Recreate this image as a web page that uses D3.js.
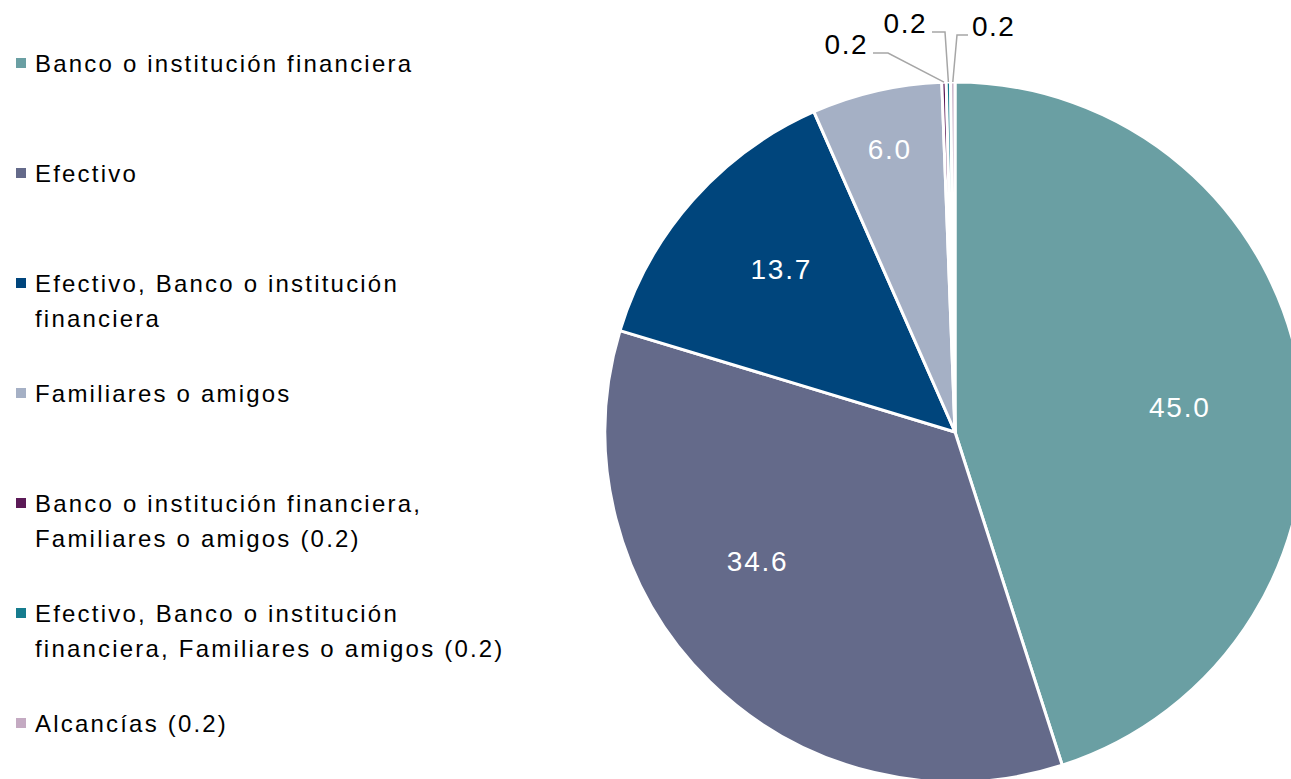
<!DOCTYPE html>
<html>
<head>
<meta charset="utf-8">
<script src="https://cdn.jsdelivr.net/npm/d3@7"></script>
<style>
  body { margin: 0; background: #fff; }
  text { font-family: "Liberation Sans", Arial, sans-serif; }
</style>
</head>
<body>
<svg id="chart" width="1291" height="779"></svg>
<script>
// Categories, values and colours
var categories = [
  "Banco o institución financiera",
  "Efectivo",
  "Efectivo, Banco o institución financiera",
  "Familiares o amigos",
  "Banco o institución financiera, Familiares o amigos",
  "Efectivo, Banco o institución financiera, Familiares o amigos",
  "Alcancías"
]
var values = [45.0, 34.6, 13.7, 6.0, 0.2, 0.2, 0.2]
var colours = ["#6a9fa3", "#646a8a", "#00457c", "#a5b0c5", "#5b1a57", "#167c8e", "#c4aac2"]

// Legend text, already broken into lines as in the picture
var legend_lines = [
  ["Banco o institución financiera"],
  ["Efectivo"],
  ["Efectivo, Banco o institución", "financiera"],
  ["Familiares o amigos"],
  ["Banco o institución financiera,", "Familiares o amigos (0.2)"],
  ["Efectivo, Banco o institución", "financiera, Familiares o amigos (0.2)"],
  ["Alcancías (0.2)"]
]

var svg = d3.select("#chart")

var cx = 955, cy = 432, radius = 350

var pie = d3.pie().sort(null).value(function(d) { return d })
var arcs = pie(values)

var arc = d3.arc().innerRadius(0).outerRadius(radius)

var pie_g = svg.append("g").attr("transform", "translate(" + cx + "," + cy + ")")

pie_g.selectAll(".slice")
  .data(arcs)
  .enter().append("path")
    .attr("class", "slice")
    .attr("d", arc)
    .attr("fill", function(d, i) { return colours[i] })
    .attr("stroke", "#fff")
    .attr("stroke-width", 3)
    .attr("stroke-linejoin", "round")

// Big slices get a white label inside (radius fraction, angle nudge in degrees,
// roughly where Excel's best fit put them)
var inner_place = [[0.646, 2.6], [0.674, 12.3], [0.68, 1.6], [0.83, 0]]

pie_g.selectAll(".inner_label")
  .data(arcs.filter(function(d) { return d.value >= 1 }))
  .enter().append("text")
    .attr("class", "inner_label")
    .attr("transform", function(d, i) {
      var p = inner_place[i]
      var a = (d.startAngle + d.endAngle) / 2 + p[1] * Math.PI / 180
      var r = radius * p[0]
      return "translate(" + (Math.sin(a) * r) + "," + (-Math.cos(a) * r) + ")"
    })
    .attr("text-anchor", "middle")
    .attr("dy", "0.36em")
    .attr("fill", "#fff")
    .style("font-size", "28px")
    .style("letter-spacing", "1.8px")
    .text(function(d) { return d3.format(".1f")(d.value) })

// Tiny slices: leader lines out to labels above the pie
var small = arcs.filter(function(d) { return d.value < 1 })
// elbow placement for each small label (relative to pie centre)
var small_layout = [
  {elbow_x: -67, elbow_y: -379, end_x: -82, anchor: "end"},
  {elbow_x: -10, elbow_y: -400, end_x: -23, anchor: "end"},
  {elbow_x: 2, elbow_y: -397, end_x: 13, anchor: "start"}
]

small.forEach(function(d, i) {
  var mid = (d.startAngle + d.endAngle) / 2
  var p0 = [Math.sin(mid) * radius, -Math.cos(mid) * radius]
  var lay = small_layout[i]
  pie_g.append("polyline")
    .attr("points", [p0, [lay.elbow_x, lay.elbow_y], [lay.end_x, lay.elbow_y]].map(function(p) { return p.join(",") }).join(" "))
    .attr("fill", "none")
    .attr("stroke", "#a6a6a6")
    .attr("stroke-width", 1.5)
  pie_g.append("text")
    .attr("x", lay.end_x + (lay.anchor == "end" ? -5 : 4))
    .attr("y", lay.elbow_y)
    .attr("dy", "0.02em")
    .attr("text-anchor", lay.anchor)
    .attr("fill", "#000")
    .style("font-size", "28px")
    .style("letter-spacing", "1.5px")
    .text(d3.format(".1f")(d.value))
})

// Legend
var legend = svg.append("g").attr("class", "legend")
var row_step = 110, first_baseline = 72, line_height = 35

var rows = legend.selectAll(".legend_row")
  .data(legend_lines)
  .enter().append("g")
    .attr("class", "legend_row")
    .attr("transform", function(d, i) { return "translate(0," + (first_baseline + i * row_step) + ")" })

rows.append("rect")
  .attr("x", 16)
  .attr("y", -14)
  .attr("width", 10)
  .attr("height", 10)
  .attr("fill", function(d, i) { return colours[i] })

rows.append("text")
  .attr("x", 35)
  .attr("fill", "#000")
  .style("font-size", "24px")
  .style("letter-spacing", "2.2px")
  .selectAll("tspan")
  .data(function(d) { return d })
  .enter().append("tspan")
    .attr("x", 35)
    .attr("dy", function(d, j) { return j == 0 ? 0 : line_height })
    .text(function(d) { return d })
</script>
</body>
</html>
